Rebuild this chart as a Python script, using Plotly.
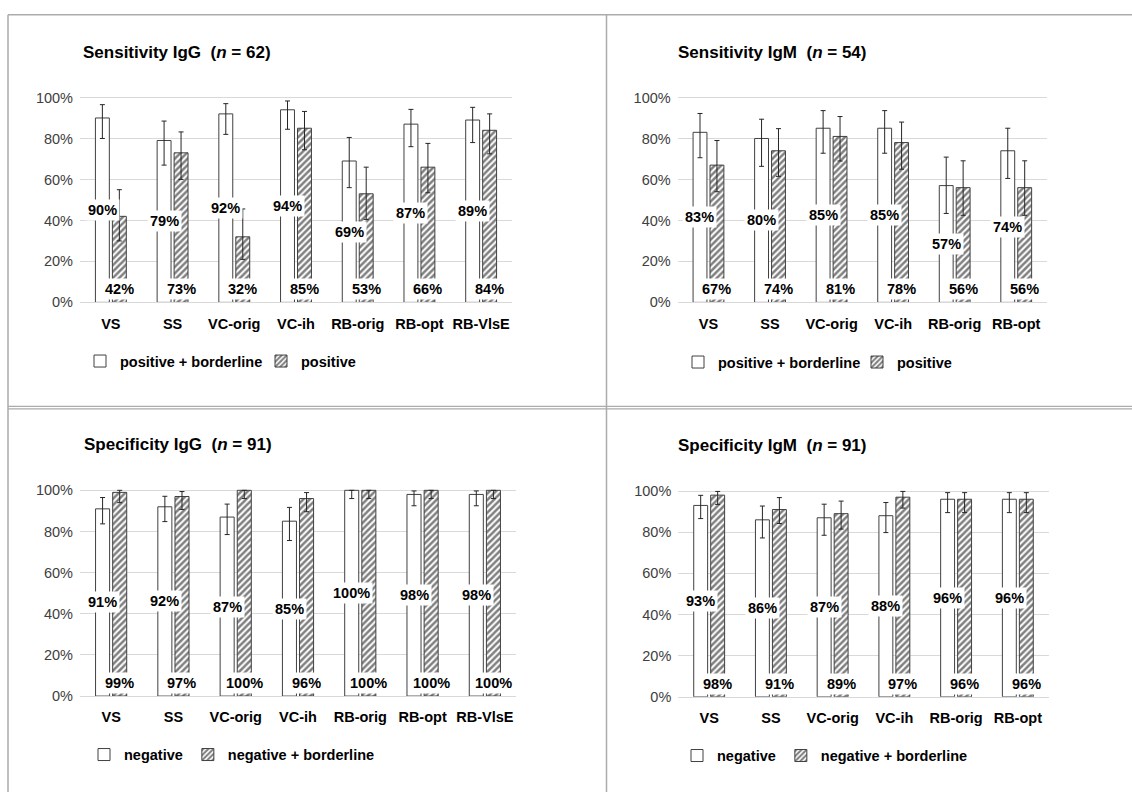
import plotly.graph_objects as go

# ---------------- data (percent) ----------------
cats_igg = ["VS", "SS", "VC-orig", "VC-ih", "RB-orig", "RB-opt", "RB-VlsE"]
cats_igm = ["VS", "SS", "VC-orig", "VC-ih", "RB-orig", "RB-opt"]

# Sensitivity IgG (n = 62)
sens_igg_pb = [90, 79, 92, 94, 69, 87, 89]
sens_igg_pb_lo = [80, 67, 82, 84.5, 56, 76, 78]
sens_igg_pb_hi = [96.5, 88.5, 97, 98.3, 80.5, 94.2, 95.2]
sens_igg_pos = [42, 73, 32, 85, 53, 66, 84]
sens_igg_pos_lo = [30, 60, 21, 74.5, 40.5, 53.5, 72.5]
sens_igg_pos_hi = [55, 83.2, 45.6, 93.2, 66, 77.6, 92]

# Sensitivity IgM (n = 54)
sens_igm_pb = [83, 80, 85, 85, 57, 74]
sens_igm_pb_lo = [70.6, 66.4, 72.8, 72.8, 43.4, 60.5]
sens_igm_pb_hi = [92.2, 89.4, 93.6, 93.6, 70.9, 85]
sens_igm_pos = [67, 74, 81, 78, 56, 56]
sens_igm_pos_lo = [54, 61.5, 69, 65, 42.5, 42.5]
sens_igm_pos_hi = [79, 84.8, 90.7, 88, 69.1, 69.1]

# Specificity IgG (n = 91)
spec_igg_neg = [91, 92, 87, 85, 100, 98, 98]
spec_igg_neg_lo = [83.7, 84.8, 78.5, 75.6, 96, 92.5, 92.5]
spec_igg_neg_hi = [96.5, 97.1, 93.3, 91.7, 100, 99.7, 99.7]
spec_igg_nb = [99, 97, 100, 96, 100, 100, 100]
spec_igg_nb_lo = [94, 90.7, 96, 89.6, 96, 96, 96]
spec_igg_nb_hi = [100, 99.4, 100, 98.9, 100, 100, 100]

# Specificity IgM (n = 91)
spec_igm_neg = [93, 86, 87, 88, 96, 96]
spec_igm_neg_lo = [86.6, 77.2, 78.5, 79.8, 89.5, 89.5]
spec_igm_neg_hi = [97.9, 92.7, 93.6, 94.4, 99.2, 99.2]
spec_igm_nb = [98, 91, 89, 97, 96, 96]
spec_igm_nb_lo = [93.5, 84.2, 81.5, 91.7, 89.5, 89.5]
spec_igm_nb_hi = [99.8, 96.8, 95.1, 99.8, 99.2, 99.2]

titles = [
    "Sensitivity IgG\u00a0 (<i>n</i> = 62)",
    "Sensitivity IgM\u00a0 (<i>n</i> = 54)",
    "Specificity IgG\u00a0 (<i>n</i> = 91)",
    "Specificity IgM\u00a0 (<i>n</i> = 91)",
]
y_ticks = [0, 20, 40, 60, 80, 100]
y_ticktext = ["0%", "20%", "40%", "60%", "80%", "100%"]

# ---------------- styling ----------------
W, H = 1132, 800
FONT = "Liberation Sans, Arial, Helvetica, sans-serif"
OUTLINE = "#404040"
ERR = "#262626"

fig = go.Figure()


def px_x(p):
    return p / W


def px_y(p):
    return 1 - p / H


panels = [
    dict(cats=cats_igg, a=sens_igg_pb, alo=sens_igg_pb_lo, ahi=sens_igg_pb_hi,
         b=sens_igg_pos, blo=sens_igg_pos_lo, bhi=sens_igg_pos_hi,
         na="positive + borderline", nb="positive",
         xd=[80, 512], yd=[302.3, 90.9], title_xy=(81, 48), leg_xy=(80, 362), ew=136),
    dict(cats=cats_igm, a=sens_igm_pb, alo=sens_igm_pb_lo, ahi=sens_igm_pb_hi,
         b=sens_igm_pos, blo=sens_igm_pos_lo, bhi=sens_igm_pos_hi,
         na="positive + borderline", nb="positive",
         xd=[677.7, 1047], yd=[302.3, 90.9], title_xy=(676, 48), leg_xy=(678, 363), ew=134),
    dict(cats=cats_igg, a=spec_igg_neg, alo=spec_igg_neg_lo, ahi=spec_igg_neg_hi,
         b=spec_igg_nb, blo=spec_igg_nb_lo, bhi=spec_igg_nb_hi,
         na="negative", nb="negative + borderline",
         xd=[80, 516], yd=[702.5, 490.2], title_xy=(82, 447), leg_xy=(84, 762), ew=None),
    dict(cats=cats_igm, a=spec_igm_neg, alo=spec_igm_neg_lo, ahi=spec_igm_neg_hi,
         b=spec_igm_nb, blo=spec_igm_nb_lo, bhi=spec_igm_nb_hi,
         na="negative", nb="negative + borderline",
         xd=[678.3, 1048.7], yd=[703.3, 490.9], title_xy=(676, 448), leg_xy=(677, 763), ew=None),
]

annotations = []
layout_axes = {}
legends = {}

for k, p in enumerate(panels, start=1):
    sfx = "" if k == 1 else str(k)
    xa, ya = "x" + sfx, "y" + sfx
    leg = "legend" + sfx

    fig.add_trace(go.Bar(
        x=p["cats"], y=p["a"], name=p["na"], xaxis=xa, yaxis=ya, legend=leg,
        marker=dict(color="white", line=dict(color=OUTLINE, width=1)),
        error_y=dict(type="data", symmetric=False,
                     array=[h - v for v, h in zip(p["a"], p["ahi"])],
                     arrayminus=[v - l for v, l in zip(p["a"], p["alo"])],
                     color=ERR, thickness=1, width=2.5),
        hoverinfo="x+y",
    ))
    fig.add_trace(go.Bar(
        x=p["cats"], y=p["b"], name=p["nb"], xaxis=xa, yaxis=ya, legend=leg,
        marker=dict(color="white", line=dict(color=OUTLINE, width=1),
                    pattern=dict(shape="/", fgcolor="black", bgcolor="white",
                                 size=4.5, solidity=0.55)),
        error_y=dict(type="data", symmetric=False,
                     array=[h - v for v, h in zip(p["b"], p["bhi"])],
                     arrayminus=[v - l for v, l in zip(p["b"], p["blo"])],
                     color=ERR, thickness=1, width=2.5),
        hoverinfo="x+y",
    ))

    layout_axes["xaxis" + sfx] = dict(
        domain=[px_x(p["xd"][0]), px_x(p["xd"][1])], anchor=ya,
        type="category", showgrid=False, zeroline=False,
        showline=True, linecolor="#d9d9d9", linewidth=1,
        ticks="", ticklabelstandoff=8,
        tickfont=dict(family=FONT, size=14.5, color="black", weight="bold"),
    )
    layout_axes["yaxis" + sfx] = dict(
        domain=[px_y(p["yd"][0]), px_y(p["yd"][1])], anchor=xa,
        range=[0, 101.5], tickmode="array", tickvals=y_ticks, ticktext=y_ticktext,
        showgrid=True, gridcolor="#d9d9d9", gridwidth=1, zeroline=False,
        showline=False, ticks="", ticklabelstandoff=6,
        tickfont=dict(family=FONT, size=14.5, color="#404040"),
    )
    lg = dict(
        orientation="h", x=px_x(p["leg_xy"][0]), y=px_y(p["leg_xy"][1]),
        xanchor="left", yanchor="middle", bgcolor="rgba(0,0,0,0)",
        font=dict(family=FONT, size=14.5, color="black", weight="bold"),
        traceorder="normal",
    )
    if p["ew"]:
        lg.update(entrywidth=p["ew"], entrywidthmode="pixels")
    legends[leg] = lg

    # title
    annotations.append(dict(
        text="<b>" + titles[k - 1] + "</b>", xref="paper", yref="paper",
        x=px_x(p["title_xy"][0]), y=px_y(p["title_xy"][1]),
        xanchor="left", yanchor="middle", showarrow=False,
        font=dict(family=FONT, size=17, color="black"),
    ))
    # data labels
    for c, va, vb in zip(p["cats"], p["a"], p["b"]):
        annotations.append(dict(
            text=f"{va:.0f}%", xref=xa, yref=ya, x=c, y=va / 2,
            xshift=-8.5, showarrow=False, bgcolor="white", borderpad=2,
            font=dict(family=FONT, size=14.5, color="black", weight="bold"),
        ))
        annotations.append(dict(
            text=f"{vb:.0f}%", xref=xa, yref=ya, x=c, y=0, yshift=13,
            xshift=8.5, showarrow=False, bgcolor="white", borderpad=2,
            font=dict(family=FONT, size=14.5, color="black", weight="bold"),
        ))

# panel frame lines
BORDER = "#ababab"
shapes = [
    dict(type="line", xref="paper", yref="paper", x0=px_x(8), x1=1, y0=px_y(10), y1=px_y(10),
         line=dict(color=BORDER, width=1.5)),
    dict(type="line", xref="paper", yref="paper", x0=px_x(8), x1=px_x(8), y0=px_y(10), y1=0,
         line=dict(color=BORDER, width=1.5)),
    dict(type="line", xref="paper", yref="paper", x0=px_x(606.5), x1=px_x(606.5), y0=px_y(10), y1=0,
         line=dict(color=BORDER, width=1.5)),
    dict(type="line", xref="paper", yref="paper", x0=px_x(8), x1=1, y0=px_y(408), y1=px_y(408),
         line=dict(color=BORDER, width=1.2)),
    dict(type="line", xref="paper", yref="paper", x0=px_x(8), x1=1, y0=px_y(410.5), y1=px_y(410.5),
         line=dict(color=BORDER, width=1.2)),
]

fig.update_layout(
    width=W, height=H, margin=dict(l=0, r=0, t=0, b=0),
    paper_bgcolor="white", plot_bgcolor="white",
    barmode="group", bargap=0.45, bargroupgap=0.18,
    font=dict(family=FONT, color="black"),
    annotations=annotations, shapes=shapes,
    **layout_axes, **legends,
)

fig.write_html("out.html")
